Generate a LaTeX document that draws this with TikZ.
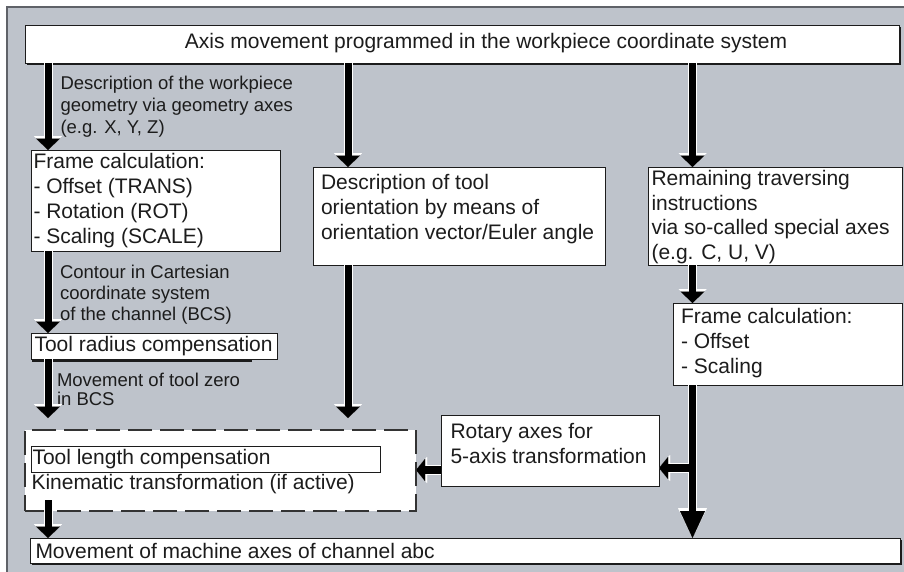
\documentclass[tikz,border=0pt]{standalone}
\usepackage{fontspec}
\setmainfont{Liberation Sans}
\usetikzlibrary{arrows.meta,shadows,calc}
\definecolor{bg}{RGB}{190,195,203}
\definecolor{ink}{RGB}{28,28,28}
\definecolor{frameline}{RGB}{95,98,104}
\tikzset{
  box/.style={draw=ink, fill=white, line width=1pt, inner sep=0pt, outer sep=0pt, anchor=north west},
  sbox/.style={box, drop shadow={shadow xshift=2pt, shadow yshift=-2pt, fill=ink, opacity=1}},
  dbox/.style={box, draw=ink!90, line width=1.2pt, dash pattern=on 24pt off 8pt},
  txt/.style={inner sep=0pt, outer sep=0pt, text=ink, font=\fontsize{21}{25}\selectfont, align=left, anchor=base west},
  lbl/.style={txt, font=\fontsize{18.5}{22}\selectfont},
  wA/.style={draw=white, line width=9pt, -{Triangle[width=28pt,length=14pt,line width=0.01pt]}},
  bA/.style={draw=black, line width=7pt, -{Triangle[width=24pt,length=11.5pt,line width=0.01pt]}},
  wBig/.style={draw=white, line width=9pt, -{Triangle[width=29pt,length=30pt,line width=0.01pt]}},
  bBig/.style={draw=black, line width=7pt, -{Triangle[width=25pt,length=27pt,line width=0.01pt]}},
  wS/.style={draw=white, line width=9.5pt, -{Triangle[width=26pt,length=11pt,line width=0.01pt]}},
  bS/.style={draw=black, line width=7.5pt, -{Triangle[width=22pt,length=9pt,line width=0.01pt]}},
}
\begin{document}
\begin{tikzpicture}[x=1pt,y=-1pt]
\useasboundingbox (0,0) rectangle (904,571);
\clip (0,0) rectangle (904,571);
% background panel
\fill[bg] (7,7) rectangle (912,580);
\draw[frameline, line width=1.3pt] (7,580) -- (7,7) -- (912,7);

% boxes
\node[sbox, minimum width=874pt, minimum height=38pt] (top) at (25,25) {};
\node[box, minimum width=249pt, minimum height=101pt] (frame) at (31,150) {};
\node[box, minimum width=292pt, minimum height=98pt] (mid) at (313,167) {};
\node[box, minimum width=254pt, minimum height=98pt] (right) at (648,167) {};
\node[box, minimum width=229pt, minimum height=82pt] (frame2) at (673,303) {};
\node[box, minimum width=246pt, minimum height=26pt] (radius) at (31,333) {};
\draw[ink, line width=2pt] ($(radius.south west)+(1,2)$) -- ($(radius.south west)+(221,2)$);
\node[box, minimum width=218pt, minimum height=71pt] (rotary) at (441,415) {};
\node[dbox, minimum width=391pt, minimum height=81pt] (dashed) at (25,430) {};
\node[box, minimum width=349pt, minimum height=26pt] (tlc) at (31,446) {};
\node[sbox, minimum width=870pt, minimum height=25pt] (bottom) at (30,538) {};

% texts (multi-line nodes are placed at the baseline of their last line)
\node[txt, anchor=base] (topT) at (486,48) {Axis movement programmed in the workpiece coordinate system};
\node[lbl] (l1) at (60.5,133) {Description of the workpiece\\geometry via geometry axes\\(e.g. X, Y, Z)};
\node[txt] (frameT) at (33.5,243) {Frame calculation:\\- Offset (TRANS)\\- Rotation (ROT)\\- Scaling (SCALE)};
\node[txt] (midT) at (321,239) {Description of tool\\orientation by means of\\orientation vector/Euler angle};
\node[txt, font=\fontsize{21}{24.5}\selectfont] (rightT) at (651.5,259) {Remaining traversing\\instructions\\via so-called special axes\\(e.g. C, U, V)};
\node[lbl, font=\fontsize{18.5}{21}\selectfont] (l2) at (60,320) {Contour in Cartesian\\coordinate system\\of the channel (BCS)};
\node[txt] (frame2T) at (681,373) {Frame calculation:\\- Offset\\- Scaling};
\node[txt] (radiusT) at (34.5,351) {Tool radius compensation};
\node[lbl, font=\fontsize{18.5}{19}\selectfont] (l3) at (57,405) {Movement of tool zero\\in BCS};
\node[txt] (rotT) at (450.5,463) {Rotary axes for\\5-axis transformation};
\node[txt] (tlcT) at (32.5,464) {Tool length compensation};
\node[txt] (kinT) at (31.5,489) {Kinematic transformation (if active)};
\node[txt] (botT) at (35.5,558) {Movement of machine axes of channel abc};

% connector helper coordinates
\coordinate (cA) at (48,0);
\coordinate (cB) at (348,0);
\coordinate (cC) at (692.5,0);
\coordinate (dA) at (48,418);
\coordinate (dB) at (348,418);
\coordinate (jC) at (692.5,468);
\coordinate (kR) at (0,470);
\coordinate (sA) at (48,500);

% arrows: white outlines
\draw[wA] (top.south -| cA) -- (frame.north -| cA);
\draw[wA] (frame.south -| cA) -- (radius.north -| cA);
\draw[wA] (radius.south -| cA) -- (dA);
\draw[wA] (top.south -| cB) -- (mid.north -| cB);
\draw[wA] (mid.south -| cB) -- (dB);
\draw[wA] (top.south -| cC) -- (right.north -| cC);
\draw[wA] (right.south -| cC) -- (frame2.north -| cC);
\draw[wS] (jC) -- (jC -| rotary.east);
\draw[wBig] (frame2.south -| cC) -- (bottom.north -| cC);
\draw[wS] (kR -| rotary.west) -- (kR -| dashed.east);
\draw[wA] (sA) -- (sA |- bottom.north);
% arrows: black bodies
\draw[bA] (top.south -| cA) -- (frame.north -| cA);
\draw[bA] (frame.south -| cA) -- (radius.north -| cA);
\draw[bA] (radius.south -| cA) -- (dA);
\draw[bA] (top.south -| cB) -- (mid.north -| cB);
\draw[bA] (mid.south -| cB) -- (dB);
\draw[bA] (top.south -| cC) -- (right.north -| cC);
\draw[bA] (right.south -| cC) -- (frame2.north -| cC);
\draw[bS] (jC) -- (jC -| rotary.east);
\draw[bBig] (frame2.south -| cC) -- (bottom.north -| cC);
\draw[bS] (kR -| rotary.west) -- (kR -| dashed.east);
\draw[bA] (sA) -- (sA |- bottom.north);
\end{tikzpicture}
\end{document}
